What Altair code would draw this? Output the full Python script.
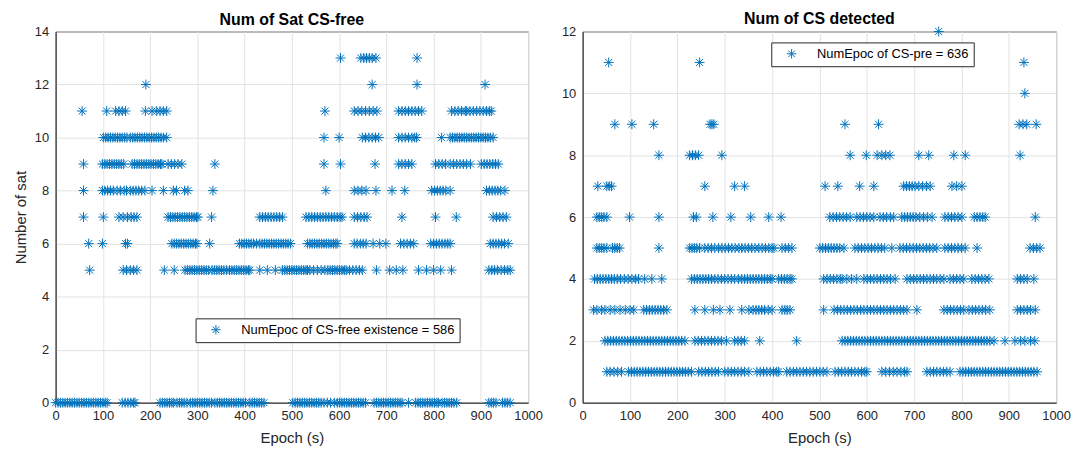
import altair as alt
import pandas as pd

# ---------------- Left panel: Num of Sat CS-free ----------------
left_y0 = [0,5,10,15,20,25,30,35,40,45,50,55,60,65,70,75,80,85,90,95,100,105,109,
           141,147,153,159,165,168,
           221,226,231,236,241,246,250,257,262,267,272,278,285,290,295,300,305,310,315,320,325,330,
           337,342,347,352,357,362,367,372,377,382,387,392,397,402,
           411,416,421,426,431,436,441,
           502,507,512,517,522,527,532,537,542,547,552,557,562,568,575,582,590,596,601,606,611,616,
           621,626,631,636,641,646,651,656,
           674,679,684,689,694,699,704,709,714,719,724,729,733,
           747,
           762,767,772,777,782,787,792,797,802,807,810,
           818,823,828,833,838,843,849,
           917,922,927,932,946,951,956,962]
left_y5 = [72,143,150,158,165,172,230,251,
           274,279,284,289,294,299,304,309,314,319,324,331,336,341,346,351,356,362,
           368,373,378,383,388,393,398,403,408,411,432,448,465,
           480,485,490,495,500,505,510,515,520,525,530,533,538,546,554,562,570,
           576,581,586,591,596,601,606,611,615,622,629,636,643,649,679,707,721,735,
           768,785,800,815,838,917,923,929,935,943,950,957,962]
left_y6 = [70,99,148,152,246,251,256,261,266,271,276,281,286,291,296,299,326,
           389,394,399,404,409,414,419,425,432,437,442,447,452,457,462,467,472,477,482,487,492,497,
           533,538,543,548,553,558,563,568,573,578,583,588,593,596,632,638,645,651,657,
           672,686,699,730,737,744,751,758,794,800,806,812,818,824,830,835,
           920,926,932,938,944,950,958]
left_y7 = [59,101,134,143,152,160,166,172,238,243,248,253,258,263,268,273,278,283,288,293,298,301,
           330,432,438,444,450,456,462,468,474,480,
           530,536,542,548,554,560,566,572,578,584,590,596,602,606,632,639,646,653,659,
           733,804,848,926,933,940,947,954]
left_y8 = [59,99,104,110,116,122,130,137,145,150,158,164,170,176,182,189,204,228,249,256,273,280,
           333,572,632,640,648,657,678,712,739,796,802,808,814,820,826,835,
           912,918,924,930,936,942,951]
left_y9 = [59,99,104,109,114,119,124,129,134,139,144,162,167,172,177,182,187,192,197,202,207,212,
           217,222,225,238,245,252,259,267,337,568,603,676,726,733,740,747,754,804,811,818,825,
           835,842,849,856,863,870,878,901,907,913,919,925,931,937]
left_y10 = [101,106,111,116,121,126,131,136,141,146,151,158,163,168,173,178,183,188,193,198,203,
            208,213,218,223,228,235,568,600,649,656,663,670,677,684,726,733,740,747,754,760,764,
            817,835,840,845,850,855,860,865,870,875,880,885,890,895,900,905,910,915,920,926]
left_y11 = [56,108,127,134,141,148,190,204,214,221,228,235,570,632,640,648,656,664,672,680,
            726,733,740,747,754,761,768,775,838,845,852,859,867,870,877,884,891,898,905,912,918,922]
left_y12 = [191,670,765,909]
left_y13 = [603,646,652,658,664,670,678,765]

# ---------------- Right panel: Num of CS detected ----------------
right_y1 = [51,58,66,74,82,97,103,109,115,121,127,133,139,145,151,157,163,169,175,181,187,193,199,
            205,211,217,223,230,245,252,259,266,273,280,287,300,307,314,321,328,335,342,351,
            368,375,382,389,396,403,410,414,431,438,445,452,459,466,473,480,487,494,501,508,516,
            533,540,547,554,561,568,575,582,589,596,600,632,640,648,656,664,672,680,685,
            727,734,741,748,755,762,769,776,797,803,809,815,821,827,833,839,845,851,857,863,
            869,875,881,887,893,899,905,911,917,923,929,935,941,947,953,960]
right_y2 = [47,53,59,65,71,77,83,89,95,101,107,113,119,125,131,137,143,149,155,161,167,173,179,
            185,191,197,203,209,216,237,244,251,258,265,272,279,286,293,304,321,328,335,342,374,
            452,548,554,560,566,572,578,584,590,596,602,608,614,620,626,632,638,644,650,656,662,
            668,674,680,686,692,698,704,710,716,722,728,734,740,746,752,758,764,770,776,782,788,
            794,800,806,812,818,824,830,836,842,848,854,860,869,892,913,925,934,946,955]
right_y3 = [23,30,40,47,58,68,79,90,100,108,129,135,141,147,153,159,165,171,178,237,258,276,290,
            311,336,351,360,366,372,378,384,392,400,421,427,432,438,509,531,538,545,552,559,566,
            573,580,587,594,601,608,615,622,629,636,643,650,657,664,671,678,685,706,
            763,770,777,784,791,798,805,816,823,830,837,844,851,860,918,925,932,939,946,956]
right_y4 = [25,31,37,43,49,55,61,67,73,80,88,96,104,112,118,131,146,167,230,236,242,248,254,260,
            266,272,279,286,293,300,307,314,321,329,336,342,348,354,360,366,372,378,384,390,396,
            400,414,420,426,432,438,442,509,516,523,530,537,544,548,558,568,579,594,601,608,615,
            622,629,636,643,650,660,685,692,699,706,713,720,727,734,741,748,755,763,
            776,783,790,797,805,822,829,836,843,850,858,918,925,932,939,953]
right_y5 = [30,35,40,45,51,63,68,73,78,161,226,231,236,241,247,258,265,272,279,287,294,301,308,
            315,322,330,336,343,350,357,364,372,379,386,393,400,404,421,428,435,442,
            501,507,513,519,525,531,537,543,552,575,582,589,596,603,610,617,624,631,638,653,
            670,677,684,691,698,705,712,719,726,733,740,748,765,772,779,786,793,800,808,833,
            945,952,959,966]
right_y6 = [30,35,40,45,51,99,161,234,240,275,313,355,393,419,522,529,536,543,550,557,565,
            579,586,593,600,607,615,628,635,642,650,657,674,680,686,692,698,704,712,720,728,738,
            765,772,779,786,793,801,827,833,839,845,850,956]
right_y7 = [32,51,56,61,258,321,342,512,539,585,615,678,684,690,696,702,710,718,726,734,780,790,801]
right_y8 = [161,226,232,238,245,294,565,599,622,632,640,649,710,731,784,808,924]
right_y9 = [68,104,150,269,273,277,554,625,922,930,938,958]
right_y10 = [934]
right_y11 = [55,247,932]
right_y12 = [752]

left_label = "NumEpoc of CS-free existence = 586"
right_label = "NumEpoc of CS-pre = 636"
x_ticks = [0, 100, 200, 300, 400, 500, 600, 700, 800, 900, 1000]

ASTER = "M0,-1L0,1M-1,0L1,0M-0.7071,-0.7071L0.7071,0.7071M-0.7071,0.7071L0.7071,-0.7071"
BLUE = "#0072BD"
FONT = "Liberation Sans"


def build(levels, label):
    rows = []
    for yv, xs in levels:
        for xv in xs:
            rows.append({"epoch": xv, "n": yv, "series": label})
    return pd.DataFrame(rows)


left_df = build([(0, left_y0), (5, left_y5), (6, left_y6), (7, left_y7), (8, left_y8),
                 (9, left_y9), (10, left_y10), (11, left_y11), (12, left_y12), (13, left_y13)],
                left_label)
right_df = build([(1, right_y1), (2, right_y2), (3, right_y3), (4, right_y4), (5, right_y5),
                  (6, right_y6), (7, right_y7), (8, right_y8), (9, right_y9), (10, right_y10),
                  (11, right_y11), (12, right_y12)], right_label)


def panel(df, title, ymax, ytitle, width, lx, ly):
    yax = alt.Axis(values=list(range(0, ymax + 1, 2)), title=ytitle, labelFlush=False)
    return alt.Chart(df).mark_point(
        shape=ASTER, filled=False, size=100, strokeWidth=1, opacity=1, clip=False
    ).encode(
        x=alt.X("epoch:Q", scale=alt.Scale(domain=[0, 1000], nice=False),
                axis=alt.Axis(values=x_ticks, title="Epoch (s)", format="d",
                              labelFlush=False, titlePadding=8)),
        y=alt.Y("n:Q", scale=alt.Scale(domain=[0, ymax], nice=False), axis=yax),
        color=alt.Color("series:N", scale=alt.Scale(range=[BLUE]),
                        legend=alt.Legend(title=None, orient="none", legendX=lx, legendY=ly,
                                          symbolType=ASTER, symbolSize=90,
                                          symbolStrokeWidth=1, symbolFillColor="transparent",
                                          symbolStrokeColor=BLUE, symbolOffset=9,
                                          labelOffset=19,
                                          strokeColor="#262626", fillColor="white",
                                          padding=5, labelFontSize=13, labelFont=FONT,
                                          labelColor="#000000", labelLimit=400,
                                          cornerRadius=0)),
    ).properties(width=width, height=374,
                 title=alt.TitleParams(title, fontSize=16, offset=-2))


left = panel(left_df, "Num of Sat CS-free", 14, "Number of sat", 476, 141, 289)
right = panel(right_df, "Num of CS detected", 12, None, 477, 190, 11)

chart = alt.hconcat(left, right, spacing=55, bounds="flush").resolve_scale(
    color="independent"
).configure_view(
    stroke="#262626", strokeWidth=1
).configure_axis(
    grid=True, gridColor="#e3e3e3", gridWidth=1,
    domainColor="#262626", ticks=False,
    labelFont=FONT, labelFontSize=13, labelColor="#262626", labelPadding=7,
    titleFont=FONT, titleFontSize=15, titleFontWeight="normal", titleColor="#262626",
    titlePadding=6,
).configure_title(
    font=FONT, fontSize=16, fontWeight="bold", color="#000000", anchor="middle"
).properties(padding={"left": 5, "top": 0, "right": 0, "bottom": 5})

chart.save("out.html", embed_options={"renderer": "svg", "actions": False})
